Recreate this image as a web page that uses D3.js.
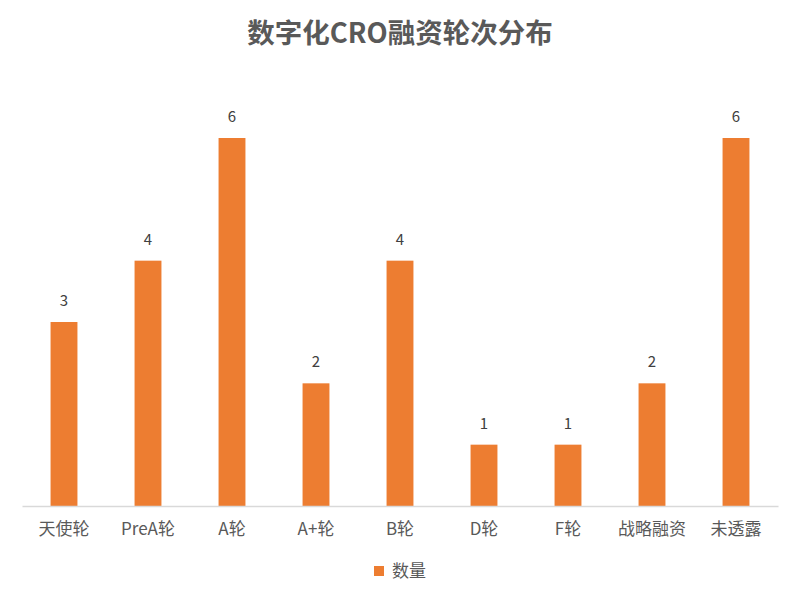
<!DOCTYPE html>
<html><head><meta charset="utf-8">
<script src="https://cdn.jsdelivr.net/npm/d3@7"></script>
<style>body{margin:0;background:#fff;} text{font-family:"Noto Sans CJK SC","Open Sans",sans-serif;}</style>
</head><body><svg id="c" width="800" height="600"></svg>
<script>
const categories = ["天使轮","PreA轮","A轮","A+轮","B轮","D轮","F轮","战略融资","未透露"];
const values = [3,4,6,2,4,1,1,2,6];
const seriesName = "数量";
const title = "数字化CRO融资轮次分布";

(function(){
const svg = d3.select("#c");
const pLeft = 22, pRight = 778, pTop = 138, pBottom = 506;
const x = d3.scaleBand().domain(categories).range([pLeft, pRight]).paddingInner(0.68).paddingOuter(0.34);
const y = d3.scaleLinear().domain([0, 6]).range([pBottom, pTop]);

svg.append("text").attr("x", 400).attr("y", 43).attr("text-anchor", "middle")
  .attr("font-size", 27.5).attr("font-weight", "bold").attr("fill", "#595959").text(title);

svg.selectAll("rect.bar").data(values).enter().append("rect").attr("class","bar")
  .attr("x", (d,i) => x(categories[i])).attr("width", x.bandwidth())
  .attr("y", d => y(d)).attr("height", d => pBottom - y(d)).attr("fill", "#ED7D31");

svg.selectAll("text.val").data(values).enter().append("text").attr("class","val")
  .attr("x", (d,i) => x(categories[i]) + x.bandwidth()/2).attr("y", d => y(d) - 16)
  .attr("text-anchor","middle").attr("font-size", 15).attr("fill","#404040").text(d => d);

const axis = d3.axisBottom(x).tickSize(0).tickPadding(17);
const g = svg.append("g").attr("transform", `translate(0,${pBottom})`).call(axis);
g.select(".domain").attr("stroke", "#d9d9d9").attr("stroke-width", 1.5);
g.selectAll("text").attr("font-size", 17).attr("fill", "#595959")
  .attr("font-family", '"Noto Sans CJK SC","Open Sans",sans-serif');

const lg = svg.append("g").attr("transform","translate(374,566)");
lg.append("rect").attr("width", 10).attr("height", 10).attr("fill", "#ED7D31");
lg.append("text").attr("x", 18).attr("y", 11).attr("font-size", 17).attr("fill", "#595959").text(seriesName);
})();
</script></body></html>
